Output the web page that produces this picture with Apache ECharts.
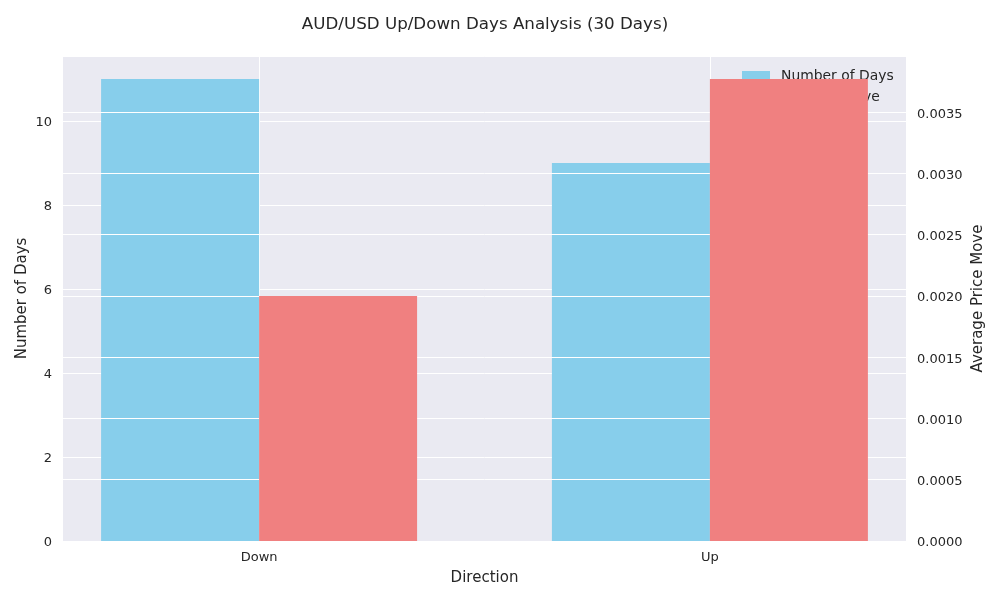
<!DOCTYPE html>
<html>
<head>
<meta charset="utf-8">
<script src="https://cdn.jsdelivr.net/npm/echarts@6/dist/echarts.min.js"></script>
<style>html,body{margin:0;padding:0;background:#fff;}#chart{width:1000px;height:600px;}</style>
</head>
<body>
<div id="chart"></div>
<script>
const categories = ['Down', 'Up'];
const numberOfDays = [11, 9];
const avgPriceMove = [0.0020, 0.00377];
const seriesNames = ['Number of Days', 'Average Move'];

const FONT = 'DejaVu Sans';
const TXT = '#262626';
const idx = categories.map((c, i) => i);
const tickRich = {v: {fontFamily: FONT, fontSize: 13, color: TXT, padding: [4, 0, 0, 0]}};

const chart = echarts.init(document.getElementById('chart'), null, {renderer: 'canvas'});
chart.setOption({
  animation: false,
  backgroundColor: '#ffffff',
  title: {
    text: 'AUD/USD Up/Down Days Analysis (30 Days)',
    left: 480, top: 11, textAlign: 'center',
    textStyle: {fontFamily: FONT, fontSize: 16.7, fontWeight: 'normal', color: TXT}
  },
  legend: {
    orient: 'vertical', left: 737, top: 64, z: 2,
    itemWidth: 28, itemHeight: 10, itemGap: 7,
    icon: 'rect',
    data: seriesNames,
    textStyle: {fontFamily: FONT, fontSize: 13.9, color: TXT, padding: [0, 0, 0, 6]}
  },
  grid: {
    left: 63, right: 94, top: 56, bottom: 59,
    show: true, backgroundColor: '#EAEAF2', borderWidth: 0
  },
  xAxis: {
    type: 'value', min: -0.435, max: 1.435,
    name: 'Direction', nameLocation: 'middle', nameGap: 30,
    nameTextStyle: {fontFamily: FONT, fontSize: 15, color: TXT},
    axisLine: {show: false},
    axisTick: {show: false, customValues: idx},
    axisLabel: {
      customValues: idx, margin: 10,
      fontFamily: FONT, fontSize: 13, color: TXT,
      formatter: v => categories[Math.round(v)]
    },
    splitLine: {show: true, lineStyle: {color: '#ffffff', width: 1}}
  },
  yAxis: [{
    type: 'value', min: 0, max: 11.55, interval: 2, z: 0,
    name: 'Number of Days', nameLocation: 'middle', nameGap: 33, nameMoveOverlap: false,
    nameTextStyle: {fontFamily: FONT, fontSize: 15, color: TXT},
    axisLine: {show: false}, axisTick: {show: false},
    axisLabel: {showMaxLabel: false, margin: 11,
      fontFamily: FONT, fontSize: 13, color: TXT,
      formatter: v => '{v|' + v + '}', rich: tickRich},
    splitLine: {show: true, lineStyle: {color: '#ffffff', width: 1}}
  }, {
    type: 'value', min: 0, max: 0.0039585, interval: 0.0005, z: 2,
    position: 'right',
    name: 'Average Price Move', nameLocation: 'middle', nameGap: 65, nameRotate: 90,
    nameMoveOverlap: false,
    nameTextStyle: {fontFamily: FONT, fontSize: 15, color: TXT},
    axisLine: {show: false}, axisTick: {show: false},
    axisLabel: {showMaxLabel: false, margin: 11,
      fontFamily: FONT, fontSize: 13, color: TXT,
      formatter: v => '{v|' + v.toFixed(4) + '}', rich: tickRich},
    splitLine: {show: true, lineStyle: {color: '#ffffff', width: 1}}
  }],
  series: [{
    name: seriesNames[0], type: 'bar', xAxisIndex: 0, yAxisIndex: 0, z: 1,
    barWidth: 158, barGap: '0%',
    itemStyle: {color: '#87CEEB'},
    data: idx.map(i => [i, numberOfDays[i]])
  }, {
    name: seriesNames[1], type: 'bar', xAxisIndex: 0, yAxisIndex: 1, z: 3,
    barWidth: 158, barGap: '0%',
    itemStyle: {color: '#F08080'},
    data: idx.map(i => [i, avgPriceMove[i]])
  }]
});
</script>
</body>
</html>
